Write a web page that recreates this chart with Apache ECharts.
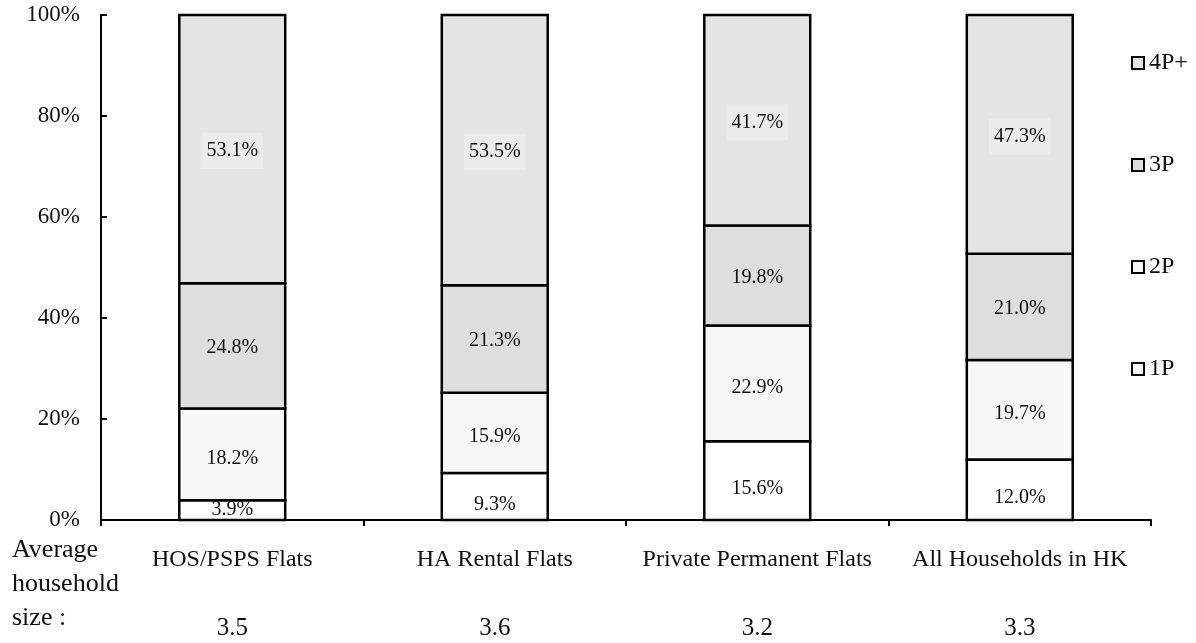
<!DOCTYPE html>
<html>
<head>
<meta charset="utf-8">
<script src="https://cdn.jsdelivr.net/npm/echarts@6/dist/echarts.min.js"></script>
<style>
  html, body { margin: 0; padding: 0; background: #ffffff; }
  #chart { width: 1196px; height: 643px; }
</style>
</head>
<body>
<div id="chart"></div>
<script>
// Household size distribution by housing type (percent of households)
const categories = ['HOS/PSPS Flats', 'HA Rental Flats', 'Private Permanent Flats', 'All Households in HK'];
const avgHouseholdSize = ['3.5', '3.6', '3.2', '3.3'];
const seriesNames = ['1P', '2P', '3P', '4P+'];
const share1P = [3.9, 9.3, 15.6, 12.0];
const share2P = [18.2, 15.9, 22.9, 19.7];
const share3P = [24.8, 21.3, 19.8, 21.0];
const share4Pplus = [53.1, 53.5, 41.7, 47.3];
const yTicks = [0, 20, 40, 60, 80, 100];

const FONT = '"Liberation Serif", "Times New Roman", serif';
const BAR_RATIO = 0.4035;          // bar width as a share of the category band
const fills = { '1P': '#ffffff', '2P': '#f7f7f7', '3P': '#dedede', '4P+': '#e4e4e4' };
const labelShift = { '1P': 8, '2P': 4, '3P': 2, '4P+': 2 };
const shares = [share1P, share2P, share3P, share4Pplus];

// Stack the segments: each item is [categoryIndex, base, top, value]
const running = categories.map(function () { return 0; });
const stacked = shares.map(function (arr) {
  return arr.map(function (v, i) {
    const base = running[i];
    running[i] = base + v;
    return [i, base, running[i], v];
  });
});

function makeRenderer(name) {
  return function (params, api) {
    const i = api.value(0);
    const lo = api.value(1);
    const hi = api.value(2);
    const v = api.value(3);
    const pBottom = api.coord([i, lo]);
    const pTop = api.coord([i, hi]);
    const w = api.size([1, 0])[0] * BAR_RATIO;
    const axisY = api.coord([i, 0])[1];
    let ty = (pBottom[1] + pTop[1]) / 2 + labelShift[name];
    ty = Math.min(ty, axisY - 10);
    const textStyle = {
      text: v.toFixed(1) + '%',
      x: pBottom[0],
      y: ty,
      align: 'center',
      verticalAlign: 'middle',
      fontFamily: FONT,
      fontSize: 20,
      fill: '#111111'
    };
    if (name === '4P+') {
      textStyle.backgroundColor = '#ebebeb';
      textStyle.padding = [8, 5, 8, 5];
    }
    return {
      type: 'group',
      children: [
        {
          type: 'rect',
          z2: 1,
          shape: { x: pBottom[0] - w / 2, y: pTop[1], width: w, height: pBottom[1] - pTop[1] },
          style: { fill: fills[name], stroke: '#000000', lineWidth: 2.5 }
        },
        { type: 'text', z2: 100, style: textStyle }
      ]
    };
  };
}

const series = seriesNames.map(function (name, k) {
  return {
    name: name,
    type: 'custom',
    renderItem: makeRenderer(name),
    encode: { x: 0, y: [1, 2] },
    data: stacked[k],
    itemStyle: { color: fills[name] },
    emphasis: { disabled: true }
  };
});

const chart = echarts.init(document.getElementById('chart'), null, { renderer: 'canvas' });
chart.setOption({
  animation: false,
  backgroundColor: '#ffffff',
  textStyle: { fontFamily: FONT },
  grid: { left: 101, right: 45, top: 15, bottom: 123, containLabel: false },
  legend: {
    orient: 'vertical',
    left: 1126,
    top: 46,
    itemGap: 78,
    itemWidth: 12,
    itemHeight: 12,
    icon: 'rect',
    data: ['4P+', '3P', '2P', '1P'],
    textStyle: { fontFamily: FONT, fontSize: 24, color: '#111111' },
    itemStyle: { borderColor: '#000000', borderWidth: 2 }
  },
  xAxis: {
    type: 'category',
    data: categories,
    axisLine: { lineStyle: { color: '#000000', width: 2 } },
    axisTick: { show: true, length: 6, lineStyle: { color: '#000000', width: 2 } },
    axisLabel: {
      margin: 5,
      interval: 0,
      formatter: function (value, idx) {
        return '{a|' + value + '}\n{b|' + avgHouseholdSize[idx] + '}';
      },
      rich: {
        a: { fontFamily: FONT, fontSize: 24, color: '#111111', lineHeight: 69 },
        b: { fontFamily: FONT, fontSize: 25, color: '#111111', lineHeight: 69 }
      }
    }
  },
  yAxis: {
    type: 'value',
    min: yTicks[0],
    max: yTicks[yTicks.length - 1],
    interval: yTicks[1] - yTicks[0],
    axisLine: { show: true, lineStyle: { color: '#000000', width: 2 } },
    axisTick: { show: true, inside: true, length: 6, lineStyle: { color: '#000000', width: 2 } },
    splitLine: { show: false },
    axisLabel: { formatter: '{value}%', fontFamily: FONT, fontSize: 23, color: '#111111', margin: 21 }
  },
  graphic: [{
    type: 'text',
    left: 12,
    top: 533,
    style: {
      text: 'Average\nhousehold\nsize :',
      fontFamily: FONT,
      fontSize: 26,
      lineHeight: 34,
      fill: '#111111'
    }
  }],
  series: series
});
</script>
</body>
</html>
